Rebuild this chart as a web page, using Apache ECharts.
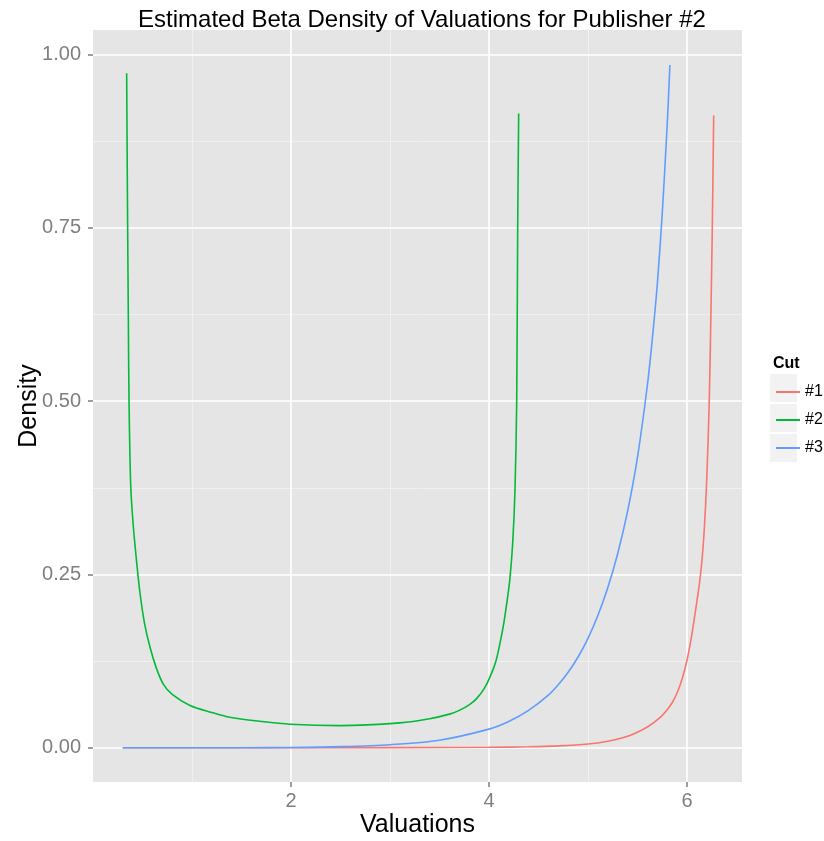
<!DOCTYPE html>
<html>
<head>
<meta charset="utf-8">
<script src="https://cdn.jsdelivr.net/npm/echarts@6/dist/echarts.min.js"></script>
<style>
html,body{margin:0;padding:0;background:#fff;}
#chart{width:824px;height:841px;}
</style>
</head>
<body>
<div id="chart"></div>
<script>
var seriesNames = ['#1', '#2', '#3'];
var seriesColors = ['#F8766D', '#00BA38', '#619CFF'];

var cut1X = [0.30, 1.0, 2.0, 3.0, 4.0, 4.4, 4.7, 5.0, 5.2, 5.35, 5.46, 5.6, 5.73, 5.8, 5.85, 5.90, 5.95, 6.0, 6.05, 6.10, 6.125, 6.15, 6.175, 6.20, 6.225, 6.24, 6.255, 6.27];
var cut1Y = [0.0, 0.0, 0.0001, 0.0003, 0.0008, 0.0015, 0.0028, 0.0055, 0.0095, 0.0145, 0.020, 0.030, 0.044, 0.055, 0.065, 0.079, 0.099, 0.126, 0.164, 0.211, 0.236, 0.268, 0.315, 0.388, 0.499, 0.610, 0.740, 0.912];

var cut2X = [0.340, 0.345, 0.350, 0.357, 0.364, 0.381, 0.407, 0.445, 0.475, 0.52, 0.576, 0.64, 0.71, 0.80, 0.98, 1.20, 1.38, 1.70, 1.99, 2.50, 3.10, 3.40, 3.61, 3.70, 3.80, 3.875, 3.95, 4.01, 4.07, 4.11, 4.15, 4.18, 4.21, 4.24, 4.263, 4.28, 4.29, 4.30];
var cut2Y = [0.973, 0.86, 0.750, 0.62, 0.499, 0.378, 0.320, 0.262, 0.223, 0.180, 0.145, 0.115, 0.092, 0.077, 0.061, 0.051, 0.044, 0.038, 0.034, 0.032, 0.036, 0.042, 0.049, 0.054, 0.062, 0.071, 0.085, 0.102, 0.125, 0.150, 0.180, 0.209, 0.242, 0.296, 0.373, 0.499, 0.750, 0.915];

var cut3X = [0.30, 1.0, 1.5, 2.0, 2.5, 3.0, 3.5, 4.0, 4.2, 4.4, 4.6, 4.7, 4.8, 4.9, 5.0, 5.1, 5.2, 5.3, 5.4, 5.5, 5.6, 5.65, 5.7, 5.75, 5.8, 5.828];
var cut3Y = [0.0, 0.0, 0.0001, 0.0005, 0.0017, 0.0045, 0.011, 0.027, 0.038, 0.054, 0.076, 0.091, 0.109, 0.131, 0.158, 0.191, 0.231, 0.280, 0.341, 0.419, 0.523, 0.590, 0.668, 0.770, 0.898, 0.985];

var xMajorTicks = [2, 4, 6];
var xMinorTicks = [1, 3, 5];
var yMajorTicks = [0, 0.25, 0.5, 0.75, 1.0];
var yMinorTicks = [0.125, 0.375, 0.625, 0.875];

var xsAll = [cut1X, cut2X, cut3X];
var ysAll = [cut1Y, cut2Y, cut3Y];

function zip(xs, ys) {
  var out = [];
  for (var i = 0; i < xs.length; i++) out.push([xs[i], ys[i]]);
  return out;
}

var xMin = 0, xMax = 6.556;
var yMin = -0.0493, yMax = 1.0355;
var FONT = '"Liberation Sans", Arial, Helvetica, sans-serif';

var chart = echarts.init(document.getElementById('chart'), null, {renderer: 'canvas'});

var series = seriesNames.map(function (name, i) {
  return {
    name: name,
    type: 'line',
    xAxisIndex: 0,
    yAxisIndex: 0,
    data: zip(xsAll[i], ysAll[i]),
    showSymbol: false,
    symbol: 'none',
    smooth: 0.3,
    lineStyle: {color: seriesColors[i], width: 1.6},
    itemStyle: {color: seriesColors[i]},
    emphasis: {disabled: true},
    animation: false
  };
});

var hiddenLine = {show: true, onZero: false, lineStyle: {color: 'rgba(0,0,0,0)', width: 0}};

var option = {
  animation: false,
  backgroundColor: '#ffffff',
  title: [
    {
      text: 'Estimated Beta Density of Valuations for Publisher #2',
      left: 417, top: 3, textAlign: 'center',
      textStyle: {fontFamily: FONT, fontSize: 24, fontWeight: 'normal', color: '#000'}
    },
    {
      text: 'Cut',
      left: 768, top: 351,
      textStyle: {fontFamily: FONT, fontSize: 16, fontWeight: 'bold', color: '#000'}
    }
  ],
  grid: {
    left: 93, right: 82, top: 30, bottom: 59,
    outerBoundsMode: 'none', containLabel: false,
    show: true, backgroundColor: '#E5E5E5', borderWidth: 0
  },
  legend: {
    data: seriesNames,
    orient: 'vertical',
    left: 771, top: 379,
    icon: 'rect',
    itemWidth: 24, itemHeight: 2,
    itemGap: 12,
    textStyle: {fontFamily: FONT, fontSize: 16, color: '#000'},
    selectedMode: false
  },
  graphic: [
    {type: 'rect', left: 769, top: 373, shape: {width: 28, height: 29}, style: {fill: '#F2F2F2', stroke: '#fff', lineWidth: 1}, z: -1},
    {type: 'rect', left: 769, top: 403, shape: {width: 28, height: 29}, style: {fill: '#F2F2F2', stroke: '#fff', lineWidth: 1}, z: -1},
    {type: 'rect', left: 769, top: 433, shape: {width: 28, height: 29}, style: {fill: '#F2F2F2', stroke: '#fff', lineWidth: 1}, z: -1}
  ],
  xAxis: [
    {
      type: 'value', min: xMin, max: xMax, position: 'bottom',
      name: 'Valuations', nameLocation: 'middle', nameGap: 31, nameMoveOverlap: false,
      nameTextStyle: {fontFamily: FONT, fontSize: 25, color: '#000'},
      axisLine: hiddenLine,
      axisTick: {show: true, inside: false, length: 5, lineStyle: {color: '#7F7F7F', width: 1.5}, customValues: xMajorTicks},
      axisLabel: {fontFamily: FONT, fontSize: 20, color: '#7F7F7F', margin: 9, customValues: xMajorTicks},
      splitLine: {show: true, lineStyle: {color: '#FFFFFF', width: 1.6}},
      z: 1
    },
    {
      type: 'value', min: xMin, max: xMax, position: 'bottom',
      axisLine: {show: false, onZero: false},
      axisTick: {show: false, customValues: xMinorTicks},
      axisLabel: {show: false, customValues: xMinorTicks},
      splitLine: {show: true, lineStyle: {color: '#F2F2F2', width: 0.8}},
      z: 0
    }
  ],
  yAxis: [
    {
      type: 'value', min: yMin, max: yMax, position: 'left',
      name: 'Density', nameLocation: 'middle', nameGap: 51, nameRotate: 90, nameMoveOverlap: false,
      nameTextStyle: {fontFamily: FONT, fontSize: 25, color: '#000'},
      axisLine: hiddenLine,
      axisTick: {show: true, inside: false, length: 5, lineStyle: {color: '#7F7F7F', width: 1.5}, customValues: yMajorTicks},
      axisLabel: {fontFamily: FONT, fontSize: 20, color: '#7F7F7F', margin: 12, customValues: yMajorTicks,
        formatter: function (v) { return v.toFixed(2); }},
      splitLine: {show: true, lineStyle: {color: '#FFFFFF', width: 1.6}},
      z: 1
    },
    {
      type: 'value', min: yMin, max: yMax, position: 'left',
      axisLine: {show: false, onZero: false},
      axisTick: {show: false, customValues: yMinorTicks},
      axisLabel: {show: false, customValues: yMinorTicks},
      splitLine: {show: true, lineStyle: {color: '#F2F2F2', width: 0.8}},
      z: 0
    }
  ],
  series: series
};

chart.setOption(option);
</script>
</body>
</html>
